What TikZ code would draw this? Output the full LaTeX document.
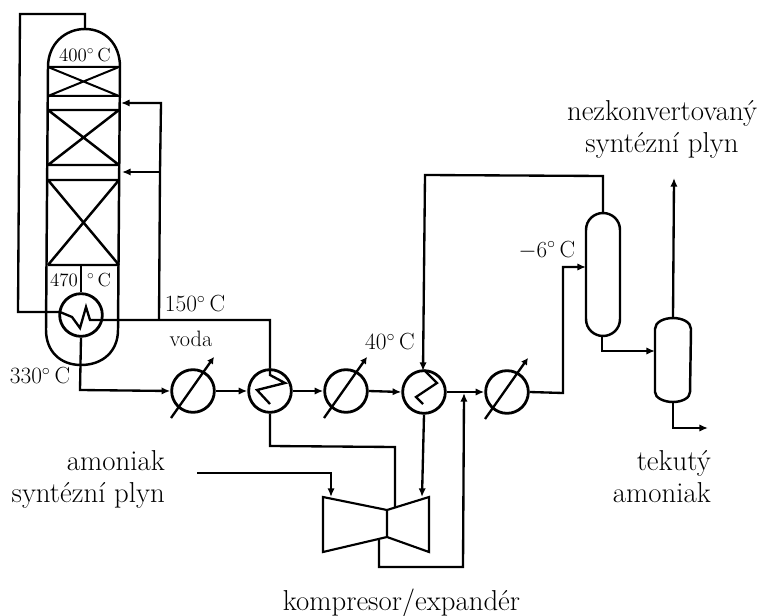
\documentclass[tikz,border=0pt]{standalone}
\usetikzlibrary{arrows.meta}
\tikzset{
  pipe/.style={line width=1.75pt,line join=miter},
  flow/.style={pipe,-{Latex[length=6.5pt,width=5.5pt]}},
  wall/.style={line width=1.85pt},
  thin wall/.style={line width=1.6pt},
  unit/.style={circle,draw,line width=2.1pt,minimum size=32pt,inner sep=0pt},
  lab/.style={font=\fontsize{17.5}{21}\selectfont,inner sep=0pt},
  biglab/.style={font=\fontsize{21.6}{24}\selectfont,inner sep=0pt},
  smalllab/.style={font=\fontsize{14.2}{17}\selectfont,inner sep=0pt}
}
\begin{document}
\begin{tikzpicture}[x=0.75pt,y=-0.75pt]
\useasboundingbox (0,0) rectangle (759,616);
% reactor shell
\draw[wall] (48,67) .. controls (48,44) and (65,29) .. (85,29)
  .. controls (105,29) and (120,44) .. (120,67) -- (118,330)
  .. controls (118,351) and (103,365) .. (81,365)
  .. controls (60,365) and (46,351) .. (46,330) -- cycle;
% beds
\foreach \ya/\yb/\lw in {67/96/1.5pt,110/165/1.85pt,180/265/1.85pt}{
  \draw[line width=\lw] (48,\ya) -- (119,\ya) (48,\yb) -- (119,\yb)
     (48,\ya) -- (119,\yb) (48,\yb) -- (119,\ya);
}
% coordinates
\coordinate (topout) at (85,29);
\coordinate (tl) at (85,14);
\coordinate (tll) at (20,14);
\coordinate (bll) at (18,312);
\coordinate (bedbot) at (81,265);
\node[unit] (hx) at (81,315) {};
\node[unit] (c1) at (193,391) {};
\node[unit] (c2) at (270,391) {};
\node[unit] (c3) at (346,391) {};
\node[unit] (c4) at (424,392) {};
\node[unit] (c5) at (507,392) {};
% hot exchanger
\draw[pipe] (topout) -- (tl) -- (tll) -- (bll) -- (60,312) -- (72,317) -- (80,328) -- (86,307) -- (90,320) -- (270,320) -- (c2.north);
\draw[pipe] (bedbot) -- (hx.north);
% side feeds
\coordinate (j150) at (159,320);
\coordinate (jtop) at (161,103);
\coordinate (jmid) at (160,172);
\coordinate (r1) at (121,103);
\coordinate (r2) at (122,172);
\draw[flow] (j150) -- (jmid) -- (jtop) -- (r1);
\draw[flow] (jmid) -- (r2);
% line
\coordinate (a1) at (80,390);
\draw[flow] (hx.south) -- (a1) -- (c1.west);
\draw[flow] (c1.east) -- (c2.west);
\draw[flow] (c2.east) -- (c3.west);
\draw[flow] (c3.east) -- (c4.west);
\draw[flow] (c4.east) -- (c5.west);
% valves
\foreach \n in {c1,c3,c5}{
  \draw[pipe,-{Latex[length=5pt,width=5.5pt]}] ([shift={(-22,27)}]\n.center) -- ([shift={(21,-34)}]\n.center);
}
% zigzags
\draw[pipe] (c2.north) -- (270,375) -- (285,383) -- (257,390) -- (270,404);
\draw[pipe] (424,370) -- (437,383) -- (416,397) -- (423,404);
% turbine
\coordinate (t1) at (323,497);
\coordinate (t2) at (387,510);
\coordinate (t3) at (387,537);
\coordinate (t4) at (323,552);
\coordinate (t5) at (429,497);
\coordinate (t6) at (429,552);
\draw[thin wall,line join=miter] (t1) -- (t2) -- (t5) -- (t6) -- (t3) -- (t4) -- cycle (t2) -- (t3);
% connections around turbine
\coordinate (b1) at (270,446);
\coordinate (b2) at (395,447);
\coordinate (b3) at (395,508);
\draw[pipe] (c2.south) -- (b1) -- (b2) -- (b3);
\coordinate (f1) at (197,473);
\coordinate (f2) at (331,473);
\coordinate (f3) at (331,497);
\draw[flow] (f1) -- (f2) -- (f3);
\coordinate (d1) at (422,497);
\draw[flow] (c4.south) -- (d1);
\coordinate (e1) at (379,540);
\coordinate (e2) at (379,567);
\coordinate (e3) at (463,567);
\coordinate (e4) at (464,393);
\draw[flow] (e1) -- (e2) -- (e3) -- (e4);
% separators
\draw[wall] (586,230) .. controls (586,220) and (594,213) .. (603,213)
  .. controls (612,213) and (620,220) .. (620,230) -- (620,319)
  .. controls (620,329) and (612,336) .. (603,336)
  .. controls (594,336) and (586,329) .. (586,319) -- cycle;
\draw[wall] (655,329) .. controls (655,322) and (664,318) .. (673,318)
  .. controls (682,318) and (691,322) .. (691,329) -- (690,392)
  .. controls (690,398) and (682,402) .. (673,402)
  .. controls (664,402) and (655,398) .. (655,392) -- cycle;
\coordinate (s1) at (563,393);
\coordinate (s2) at (563,267);
\coordinate (s3) at (586,267);
\draw[flow] (c5.east) -- (s1) -- (s2) -- (s3);
\coordinate (v1top) at (603,213);
\coordinate (v1up) at (603,176);
\coordinate (v1l) at (425,175);
\coordinate (v1in) at (423,371);
\draw[flow] (v1top) -- (v1up) -- (v1l) -- (v1in);
\coordinate (v1b) at (602,336);
\coordinate (v1c) at (602,351);
\coordinate (v2in) at (655,351);
\draw[flow] (v1b) -- (v1c) -- (v2in);
\coordinate (v2t) at (673,318);
\coordinate (v2out) at (674,178);
\draw[flow] (v2t) -- (v2out);
\coordinate (v2b) at (673,402);
\coordinate (v2c) at (673,428);
\coordinate (v2d) at (708,428);
\draw[flow] (v2b) -- (v2c) -- (v2d);
% labels
\node[smalllab] (l400) at (85,55) {400$^\circ$\,C};
\node[smalllab] (l470) at (64,280) {470};
\node[smalllab] (l470c) at (99,280) {$^\circ$\,C};
\node[lab] (l150) at (195,304) {150$^\circ$\,C};
\node[lab] (l330) at (40,376) {330$^\circ$\,C};
\node[lab,font=\fontsize{16.7}{20}\selectfont] (lvoda) at (191,339) {voda};
\node[lab] (l40) at (390,342) {40$^\circ$\,C};
\node[lab] (lm6) at (547,250) {$-6^\circ$\,C};
\node[biglab,align=center] (lnez) at (662,129) {nezkonvertovaný\\syntézní plyn};
\node[biglab,align=right,anchor=east] (lam) at (165,479) {amoniak\\syntézní plyn};
\node[biglab,align=right,anchor=east] (ltek) at (711,477) {tekutý\\amoniak};
\node[biglab] (lkomp) at (401.5,603) {kompresor/expandér};
\end{tikzpicture}
\end{document}
